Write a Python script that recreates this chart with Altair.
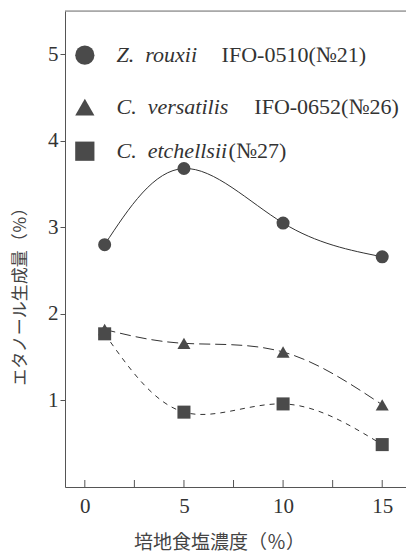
import altair as alt
import pandas as pd

# ---- data ----
salt = [1, 5, 10, 15]
z_rouxii = [2.80, 3.68, 3.05, 2.66]
c_versatilis = [1.82, 1.66, 1.56, 0.95]
c_etchellsii = [1.77, 0.865, 0.96, 0.49]

series_keys = ["Z", "V", "E"]
series_italic = ["Z.\u00a0\u00a0rouxii", "C.\u00a0\u00a0versatilis", "C.\u00a0\u00a0etchellsii"]
series_rest = ["IFO-0510(№21)", "IFO-0652(№26)", "(№27)"]
series_shapes = ["circle", "triangle-up", "square"]

x_ticks = [0, 2.5, 5, 7.5, 10, 12.5, 15]
y_ticks = [1, 2, 3, 4, 5]

# legend layout (in data coordinates of the chart)
leg_mark_x = [0, 0, 0]
leg_y = [4.99, 4.39, 3.88]
leg_text_x = [1.6, 1.6, 1.6]
leg_rest_x = [6.9, 8.55, 7.25]

rows = []
for key, vals in zip(series_keys, [z_rouxii, c_versatilis, c_etchellsii]):
    for x, y in zip(salt, vals):
        rows.append({"x": x, "y": y, "s": key})
df = pd.DataFrame(rows)

leg = pd.DataFrame({
    "s": series_keys, "mx": leg_mark_x, "y": leg_y,
    "tx": leg_text_x, "rx": leg_rest_x,
    "it": series_italic, "rest": series_rest,
})
ticks_df = pd.DataFrame({"x": x_ticks})

SERIF = "Liberation Serif, DejaVu Serif, serif"
W, H = 341, 476
xs = alt.Scale(domain=[-1, 16.2], nice=False, zero=False)
ys = alt.Scale(domain=[0, 5.5], nice=False, zero=False)
shape_scale = alt.Scale(domain=series_keys, range=series_shapes)

X = alt.X("x:Q", scale=xs, axis=alt.Axis(
    values=x_ticks, ticks=False, grid=False, format="d",
    labelExpr="datum.value % 5 == 0 ? datum.label : ''",
    labelFont=SERIF, labelFontSize=21, labelColor="#333",
    labelPadding=8, domainColor="#555", labelFlush=False,
    title="培地食塩濃度（％）", titleFont="Noto Sans CJK JP", titleFontSize=19,
    titleFontWeight="normal", titleColor="#444",
    titleX=154, titleY=55, titleBaseline="middle", titleAlign="center"))
Y = alt.Y("y:Q", scale=ys, axis=alt.Axis(
    values=y_ticks, tickSize=5, grid=False, tickColor="#555", format="d",
    labelFont=SERIF, labelFontSize=21, labelColor="#333",
    labelPadding=2, domainColor="#555",
    title="エタノール生成量（％）", titleFont="Noto Sans CJK JP", titleFontSize=17,
    titleFontWeight="normal", titleColor="#444", titleAngle=-90,
    titleX=-45, titleY=281, titleAlign="center", titleBaseline="middle"))

base = alt.Chart(df)

line_z = base.transform_filter("datum.s == 'Z'").mark_line(
    interpolate="natural", color="#333", strokeWidth=1).encode(x=X, y=Y)
line_v = base.transform_filter("datum.s == 'V'").mark_line(
    interpolate="natural", color="#333", strokeWidth=1,
    strokeDash=[11, 5]).encode(x="x:Q", y="y:Q")
line_e = base.transform_filter("datum.s == 'E'").mark_line(
    interpolate="natural", color="#333", strokeWidth=1,
    strokeDash=[5, 5]).encode(x="x:Q", y="y:Q")

pts = base.mark_point(filled=True, size=170, opacity=1, color="#4a4a4a").encode(
    x="x:Q", y="y:Q",
    shape=alt.Shape("s:N", scale=shape_scale, legend=None))

lchart = alt.Chart(leg)
leg_pts = lchart.mark_point(filled=True, size=370, opacity=1, color="#4a4a4a").encode(
    x="mx:Q", y="y:Q",
    shape=alt.Shape("s:N", scale=shape_scale, legend=None))
leg_it = lchart.mark_text(font=SERIF, fontSize=22, fontStyle="italic",
                          align="left", baseline="middle", color="#333").encode(
    x="tx:Q", y="y:Q", text="it:N")
leg_rest = lchart.mark_text(font=SERIF, fontSize=22,
                            align="left", baseline="middle", color="#333").encode(
    x="rx:Q", y="y:Q", text="rest:N")

xtick_marks = alt.Chart(ticks_df).mark_rule(color="#555", strokeWidth=1).encode(
    x="x:Q", y=alt.value(H - 7), y2=alt.value(H))

top_rule = alt.Chart(ticks_df.head(1)).mark_rule(color="#777", strokeWidth=1).encode(
    x=alt.value(0), x2=alt.value(W), y=alt.value(0))

chart = alt.layer(line_z, line_v, line_e, pts, leg_pts, leg_it, leg_rest,
                  xtick_marks, top_rule).properties(
    width=W, height=H,
    autosize=alt.AutoSizeParams(type="none"),
    padding={"left": 65, "top": 11, "right": 0, "bottom": 66},
).configure_view(stroke=None).configure(background="white")

chart.save("out.html", embed_options={"renderer": "svg", "actions": False})
